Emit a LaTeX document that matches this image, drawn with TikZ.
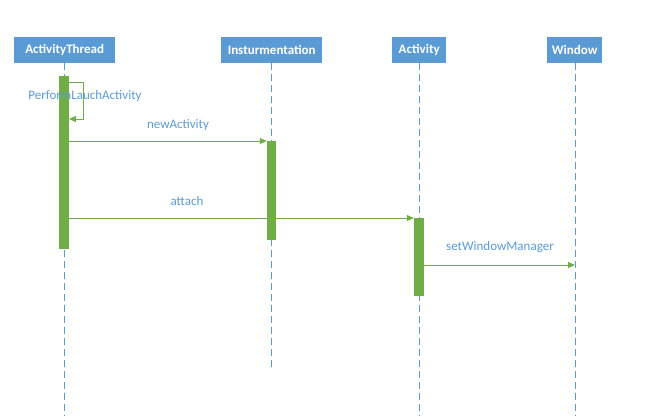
\documentclass[tikz,border=0pt]{standalone}
\usepackage{fontspec}
\setmainfont{Carlito}
\usetikzlibrary{arrows.meta}
\definecolor{hdr}{HTML}{5B9BD5}
\definecolor{grn}{HTML}{70AD47}
\definecolor{lbl}{HTML}{5B9BD5}
\tikzset{
  hdrbox/.style={fill=hdr,draw=none,text=white,font=\fontsize{13}{15}\selectfont\bfseries,minimum height=26pt,inner sep=0pt,anchor=north west},
  life/.style={draw=hdr,dash pattern=on 7pt off 4pt,line width=0.8pt},
  actbar/.style={fill=grn,draw=none},
  msg/.style={draw=grn,line width=0.8pt,-{Triangle[length=7pt,width=6pt]}},
  msglbl/.style={text=lbl,font=\fontsize{13}{15}\selectfont,inner sep=0pt}
}
\begin{document}
\begin{tikzpicture}[x=1pt,y=-1pt]
\useasboundingbox (0,0) rectangle (668,416);
% headers
\node[hdrbox,minimum width=101pt] (ht) at (14,37) {ActivityThread};
\node[hdrbox,minimum width=101pt] (hi) at (221,37) {Insturmentation};
\node[hdrbox,minimum width=54pt] (ha) at (392,37) {Activity};
\node[hdrbox,minimum width=55pt] (hw) at (547,37) {Window};
% lifelines
\coordinate (et) at (64,416);
\coordinate (ei) at (271,370);
\coordinate (ea) at (419,416);
\coordinate (ew) at (575,416);
\draw[life] (64,63) -- (et);
\draw[life] (271,63) -- (ei);
\draw[life] (419,63) -- (ea);
\draw[life] (575,63) -- (ew);
% activation bars
\node[actbar,minimum width=10pt,minimum height=173pt,inner sep=0pt,anchor=north] (bt) at (64,76) {};
\node[actbar,minimum width=9pt,minimum height=99pt,inner sep=0pt,anchor=north] (bi) at (271.5,141) {};
\node[actbar,minimum width=10pt,minimum height=78pt,inner sep=0pt,anchor=north] (ba) at (419,218) {};
% self message
\coordinate (s1) at (69,82);
\coordinate (s2) at (83,82);
\coordinate (s3) at (83,119);
\coordinate (s4) at (69,119);
\draw[msg] (s1) -- (s2) -- (s3) -- (s4);
\node[msglbl] (l0) at (85,96) {PerformLauchActivity};
% messages
\draw[msg] (bt.east |- 0,141) -- (bi.west |- 0,141);
\node[msglbl] (l1) at (178,125) {newActivity};
\draw[msg] (bt.east |- 0,218) -- (ba.west |- 0,218);
\node[msglbl] (l2) at (187,201) {attach};
\draw[msg] (ba.east |- 0,265) -- (ew |- 0,265);
\node[msglbl] (l3) at (500,247) {setWindowManager};
\end{tikzpicture}
\end{document}
